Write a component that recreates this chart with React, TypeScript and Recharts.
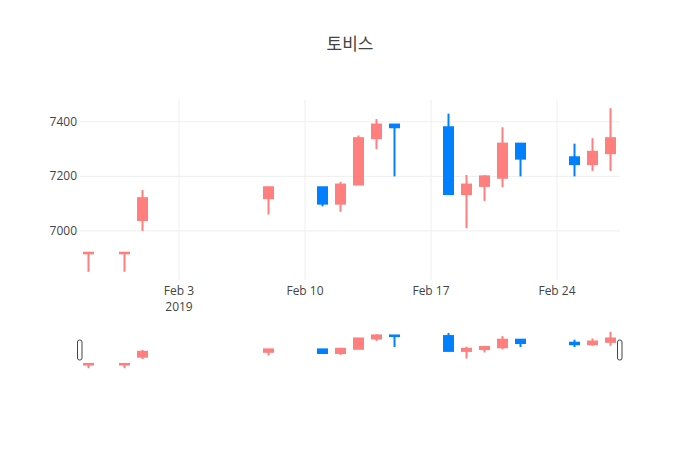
import React from "react";
import {
  ComposedChart,
  Bar,
  XAxis,
  YAxis,
  CartesianGrid,
  ReferenceLine,
} from "recharts";

const dates = [
  "2019-01-29", "2019-01-31", "2019-02-01", "2019-02-08", "2019-02-11",
  "2019-02-12", "2019-02-13", "2019-02-14", "2019-02-15", "2019-02-18",
  "2019-02-19", "2019-02-20", "2019-02-21", "2019-02-22", "2019-02-25",
  "2019-02-26", "2019-02-27",
];
const openVals = [6920, 6920, 7040, 7120, 7160, 7100, 7170, 7340, 7390, 7380, 7135, 7165, 7195, 7320, 7270, 7245, 7285];
const highVals = [6920, 6920, 7150, 7160, 7160, 7180, 7350, 7410, 7390, 7430, 7205, 7205, 7380, 7320, 7320, 7340, 7450];
const lowVals = [6850, 6850, 7000, 7060, 7090, 7070, 7170, 7300, 7200, 7135, 7010, 7110, 7160, 7200, 7200, 7220, 7220];
const closeVals = [6920, 6920, 7120, 7160, 7100, 7170, 7340, 7390, 7380, 7135, 7170, 7200, 7320, 7265, 7245, 7290, 7340];

const tickDates = ["2019-02-03", "2019-02-10", "2019-02-17", "2019-02-24"];
const tickLabels = ["Feb 3\n2019", "Feb 10", "Feb 17", "Feb 24"];
const yTicks = [7000, 7200, 7400];
const yDomain = [6820, 7480];
const title = "토비스";

const UP = "#ff7f7f";
const DOWN = "#0080ff";
const DAY = 86400000;

const toTs = (s: string) => {
  const [y, m, d] = s.split("-").map(Number);
  return Date.UTC(y, m - 1, d);
};

const rows = dates.map((d, i) => ({
  t: toTs(d),
  open: openVals[i],
  high: highVals[i],
  low: lowVals[i],
  close: closeVals[i],
}));

const xDomain = [toTs(dates[0]) - DAY / 2, toTs(dates[dates.length - 1]) + DAY / 2];
const xTicks = tickDates.map(toTs);

const FONT = '"Open Sans", "Noto Sans CJK KR", sans-serif';

const Candle = (props: any) => {
  const { x, y, width, height, payload } = props;
  if (!payload) return null;
  const cx = x + width / 2;
  const top = Math.min(y, y + height);
  const bot = Math.max(y, y + height);
  const range = payload.high - payload.low;
  const ppu = range > 0 ? (bot - top) / range : 0;
  const yOf = (v: number) => top + (payload.high - v) * ppu;
  const color = payload.close >= payload.open ? UP : DOWN;
  const yo = yOf(payload.open);
  const yc = yOf(payload.close);
  const bTop = Math.min(yo, yc);
  const bH = Math.max(Math.abs(yo - yc), 0.6);
  return (
    <g>
      <line x1={cx} x2={cx} y1={yOf(payload.high)} y2={yOf(payload.low)} stroke={color} strokeWidth={2} />
      <rect x={cx - 4.5} y={bTop} width={9} height={bH} fill={color} stroke={color} strokeWidth={2} />
    </g>
  );
};

const XTick = (props: any) => {
  const { x, y, payload } = props;
  const idx = xTicks.indexOf(payload.value);
  const label = idx >= 0 ? tickLabels[idx] : "";
  const lines = label.split("\n");
  return (
    <text x={x} y={y} textAnchor="middle" fill="#444" fontSize={12} fontFamily={FONT}>
      {lines.map((l, i) => (
        <tspan key={i} x={x} dy={i === 0 ? 15 : 16}>
          {l}
        </tspan>
      ))}
    </text>
  );
};

const YTick = (props: any) => {
  const { x, y, payload } = props;
  return (
    <text x={x} y={y} dy={4} textAnchor="end" fill="#444" fontSize={12} fontFamily={FONT}>
      {payload.value}
    </text>
  );
};

const Handle = (props: any) => {
  const { x1, y1, y2 } = props;
  const cy = (y1 + y2) / 2;
  return <rect x={x1 - 2.5} y={cy - 10} width={4.5} height={20} rx={2} ry={2} fill="#fff" stroke="#444" strokeWidth={1} />;
};

export default function App() {
  return (
    <div style={{ position: "absolute", left: 0, top: 0, width: 700, height: 450, background: "#fff" }}>
      <svg width={700} height={80} style={{ position: "absolute", left: 0, top: 0 }}>
        <text x={350} y={50} textAnchor="middle" fontSize={17} fill="#444" fontFamily={FONT}>
          {title}
        </text>
      </svg>
      <div style={{ position: "absolute", left: 0, top: 0 }}>
        <ComposedChart width={700} height={320} data={rows} margin={{ top: 100, right: 80, bottom: 20, left: 40 }}>
          <CartesianGrid stroke="#eee" strokeWidth={1} horizontalValues={yTicks} verticalValues={xTicks} />
          <XAxis
            type="number"
            dataKey="t"
            domain={xDomain}
            ticks={xTicks}
            allowDataOverflow
            axisLine={false}
            tickLine={false}
            tickSize={0}
            tickMargin={0}
            height={20}
            tick={<XTick />}
            interval={0}
          />
          <YAxis
            type="number"
            domain={yDomain}
            ticks={yTicks}
            allowDataOverflow
            axisLine={false}
            tickLine={false}
            tickSize={0}
            tickMargin={3}
            width={40}
            tick={<YTick />}
            interval={0}
          />
          <Bar dataKey={(d: any) => [d.low, d.high]} barSize={11} shape={<Candle />} isAnimationActive={false} />
        </ComposedChart>
      </div>
      <div style={{ position: "absolute", left: 0, top: 330 }}>
        <ComposedChart width={700} height={40} data={rows} margin={{ top: 0, right: 80, bottom: 0, left: 80 }}>
          <XAxis type="number" dataKey="t" domain={xDomain} allowDataOverflow hide />
          <YAxis type="number" domain={yDomain} allowDataOverflow hide />
          <Bar dataKey={(d: any) => [d.low, d.high]} barSize={11} shape={<Candle />} isAnimationActive={false} />
          <ReferenceLine x={xDomain[0]} shape={<Handle />} />
          <ReferenceLine x={xDomain[1]} shape={<Handle />} />
        </ComposedChart>
      </div>
    </div>
  );
}
